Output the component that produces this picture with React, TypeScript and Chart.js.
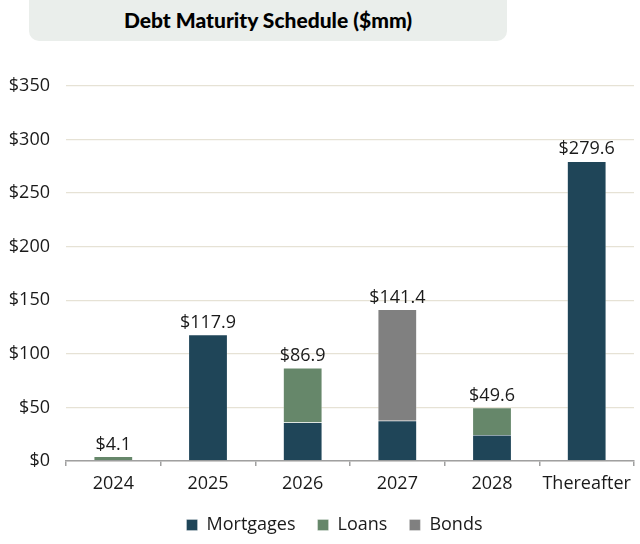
import React, { useEffect, useRef } from "react";
import { Chart, registerables } from "chart.js";

Chart.register(...registerables);

const categories = ["2024", "2025", "2026", "2027", "2028", "Thereafter"];
const mortgages = [0, 117.9, 36.0, 37.6, 24.3, 279.6];
const loans = [4.1, 0, 50.9, 0, 25.3, 0];
const bonds = [0, 0, 0, 103.8, 0, 0];
const yTicks = [0, 50, 100, 150, 200, 250, 300, 350];

const FONT = "'Open Sans', Lato, sans-serif";
const TITLE_FONT = "Lato, 'Open Sans', sans-serif";

const totalsPlugin = {
  id: "totals",
  afterLayout(chart: any) {
    if (chart.legend) {
      chart.legend.left = 35;
      chart.legend.right = 634;
      chart.legend.top += 2;
      chart.legend.bottom += 2;
    }
  },
  afterDatasetsDraw(chart: any) {
    const { ctx, scales } = chart;
    ctx.save();
    ctx.font = `18px ${FONT}`;
    ctx.fillStyle = "#1a1a1a";
    ctx.textAlign = "center";
    ctx.textBaseline = "alphabetic";
    categories.forEach((_, i) => {
      const total = Math.round((mortgages[i] + loans[i] + bonds[i]) * 10) / 10;
      const x = scales.x.getPixelForValue(i);
      const y = scales.y.getPixelForValue(total);
      ctx.fillText("$" + total.toFixed(1), x, y - 7);
    });
    ctx.restore();
  },
};

export default function App() {
  const ref = useRef<HTMLCanvasElement>(null);
  useEffect(() => {
    const chart = new Chart(ref.current!, {
      type: "bar",
      data: {
        labels: categories,
        datasets: [
          { label: "Mortgages", data: mortgages, backgroundColor: "#1f4558", borderColor: "rgba(255,255,255,0.6)", borderWidth: 0.5 },
          { label: "Loans", data: loans, backgroundColor: "#66876a", borderColor: "rgba(255,255,255,0.6)", borderWidth: 0.5 },
          { label: "Bonds", data: bonds, backgroundColor: "#808080", borderColor: "rgba(255,255,255,0.6)", borderWidth: 0.5 },
        ],
      },
      options: {
        animation: false,
        responsive: false,
        layout: { padding: { left: 0, right: 6, top: 86, bottom: 2 } },
        datasets: { bar: { barPercentage: 0.41, categoryPercentage: 1 } },
        scales: {
          x: {
            stacked: true,
            offset: true,
            afterFit: (s: any) => { s.height = 31; },
            grid: { offset: true, drawOnChartArea: false, drawTicks: true, tickLength: 5, color: "#a0a0a0", lineWidth: 1.5 },
            border: { color: "#a0a0a0", width: 1.5 },
            ticks: { color: "#1a1a1a", font: { size: 18, family: FONT }, padding: 7 },
          },
          y: {
            stacked: true,
            min: 0,
            max: 350,
            afterBuildTicks: (s: any) => { s.ticks = yTicks.map((v) => ({ value: v })); },
            afterFit: (s: any) => { s.width = 66; },
            grid: { color: "#e6e2d5", lineWidth: 1.3, drawTicks: false },
            border: { display: false },
            ticks: { color: "#1a1a1a", font: { size: 18, family: FONT }, padding: 16, callback: (v: any) => "$" + v },
          },
        },
        plugins: {
          legend: {
            position: "bottom",
            labels: { boxWidth: 11, boxHeight: 11, padding: 22, color: "#1a1a1a", font: { size: 18, family: FONT } },
          },
          tooltip: { enabled: false },
        },
      },
      plugins: [totalsPlugin],
    });
    return () => chart.destroy();
  }, []);
  return (
    <div style={{ position: "fixed", left: 0, top: 0, width: 640, height: 544, background: "#fff" }}>
      <div
        style={{
          position: "absolute",
          left: 29,
          top: -10,
          width: 478,
          height: 51,
          background: "#eaeeeb",
          borderRadius: 10,
          display: "flex",
          alignItems: "flex-end",
          justifyContent: "center",
          paddingBottom: 9,
          boxSizing: "border-box",
          fontFamily: TITLE_FONT,
          fontWeight: 900,
          fontSize: 21,
          color: "#000",
        }}
      >
        Debt Maturity Schedule ($mm)
      </div>
      <canvas ref={ref} width={640} height={544} style={{ position: "absolute", left: 0, top: 0 }} />
    </div>
  );
}
